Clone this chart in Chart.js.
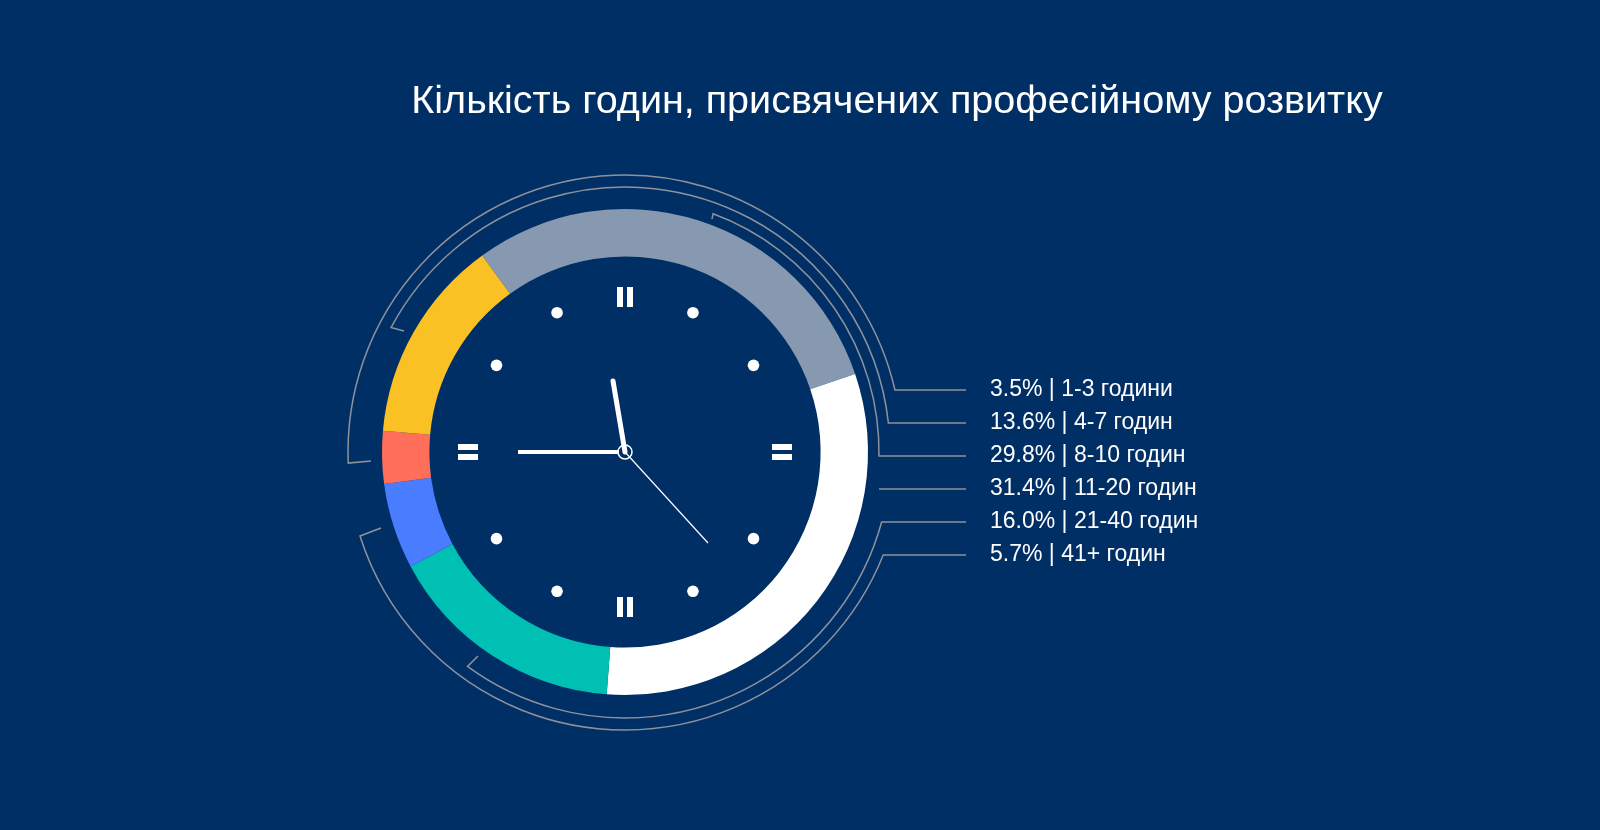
<!DOCTYPE html>
<html>
<head>
<meta charset="utf-8">
<script src="https://cdn.jsdelivr.net/npm/chart.js@4"></script>
<style>
  html, body { margin: 0; padding: 0; background: #002F65; }
  #wrap { width: 1600px; height: 830px; position: relative; }
</style>
</head>
<body>
<div id="wrap"><canvas id="grafico" width="1600" height="830"></canvas></div>
<script>
const titulo = 'Кількість годин, присвячених професійному розвитку';
// legend order
const categorias = ['1-3 години', '4-7 годин', '8-10 годин', '11-20 годин', '21-40 годин', '41+ годин'];
const valores = [3.5, 13.6, 29.8, 31.4, 16.0, 5.7];
const cores = ['#FF6F59', '#FAC124', '#8799B0', '#FFFFFF', '#00BFB3', '#4A7CFF'];
// order of the slices around the ring, clockwise
const ordemAnel = [2, 3, 4, 5, 0, 1];

const cx = 625, cy = 452;
const linhaX = 966;
const linhasY = [390, 423, 456, 489, 522, 555];
const deg = Math.PI / 180;

const decoracao = {
    id: 'decoracao',
    afterDraw(chart) {
        const ctx = chart.ctx;
        ctx.save();

        // title
        ctx.fillStyle = '#fff';
        ctx.font = '39.5px "Liberation Sans", Arial, sans-serif';
        ctx.textAlign = 'center';
        ctx.textBaseline = 'middle';
        ctx.fillText(titulo, 897, 102);

        // legend text
        ctx.font = '23px "Liberation Sans", Arial, sans-serif';
        ctx.textAlign = 'left';
        categorias.forEach((c, i) => {
            ctx.fillText(valores[i].toFixed(1) + '% | ' + c, 990, linhasY[i]);
        });

        // thin arcs + connector lines
        ctx.strokeStyle = '#8E929C';
        ctx.lineWidth = 1.5;
        function arcoTopo(r, a0, rowY, tick) {
            const a1 = 2 * Math.PI + Math.asin((rowY - cy) / r);
            ctx.beginPath();
            ctx.moveTo(tick[0], tick[1]);
            ctx.lineTo(cx + r * Math.cos(a0), cy + r * Math.sin(a0));
            ctx.arc(cx, cy, r, a0, a1, false);
            ctx.lineTo(linhaX, rowY);
            ctx.stroke();
        }
        arcoTopo(277, 177.7 * deg, linhasY[0], [371, 461]);
        arcoTopo(265, 208 * deg, linhasY[1], [404, 331]);
        arcoTopo(254, 290.3 * deg, linhasY[2], [712, 219]);

        ctx.beginPath();
        ctx.moveTo(879, linhasY[3]);
        ctx.lineTo(linhaX, linhasY[3]);
        ctx.stroke();

        function arcoBaixo(r, rowY, a1, tick) {
            const a0 = Math.asin((rowY - cy) / r);
            ctx.beginPath();
            ctx.moveTo(linhaX, rowY);
            ctx.lineTo(cx + r * Math.cos(a0), cy + r * Math.sin(a0));
            ctx.arc(cx, cy, r, a0, a1, false);
            ctx.lineTo(tick[0], tick[1]);
            ctx.stroke();
        }
        arcoBaixo(266, linhasY[4], 126.3 * deg, [478, 656]);
        arcoBaixo(278, linhasY[5], 162.4 * deg, [381, 528]);

        // clock face: dots
        ctx.fillStyle = '#fff';
        [26, 56, 124, 154, 206, 236, 304, 334].forEach(d => {
            const a = (d - 90) * deg;
            ctx.beginPath();
            ctx.arc(cx + 155 * Math.cos(a), cy + 155 * Math.sin(a), 5.8, 0, 2 * Math.PI);
            ctx.fill();
        });
        // II top / bottom
        [cy - 155, cy + 155].forEach(y => {
            ctx.fillRect(cx - 8, y - 10, 6, 20);
            ctx.fillRect(cx + 2, y - 10, 6, 20);
        });
        // = left / right
        [cx - 157, cx + 157].forEach(x => {
            ctx.fillRect(x - 10, cy - 8, 20, 6);
            ctx.fillRect(x - 10, cy + 2, 20, 6);
        });

        // hands
        ctx.strokeStyle = '#fff';
        ctx.lineCap = 'round';
        ctx.lineWidth = 5;
        ctx.beginPath();
        ctx.moveTo(cx, cy);
        ctx.lineTo(613, 381);
        ctx.stroke();
        ctx.lineCap = 'butt';
        ctx.lineWidth = 4;
        ctx.beginPath();
        ctx.moveTo(cx - 6, cy);
        ctx.lineTo(518, cy);
        ctx.stroke();
        ctx.lineWidth = 1.2;
        ctx.beginPath();
        ctx.moveTo(cx, cy);
        ctx.lineTo(708, 543);
        ctx.stroke();
        ctx.lineWidth = 1.5;
        ctx.beginPath();
        ctx.arc(cx, cy, 7, 0, 2 * Math.PI);
        ctx.stroke();

        ctx.restore();
    }
};

new Chart(document.getElementById('grafico'), {
    type: 'doughnut',
    data: {
        labels: ordemAnel.map(i => categorias[i]),
        datasets: [{
            data: ordemAnel.map(i => valores[i]),
            backgroundColor: ordemAnel.map(i => cores[i]),
            borderWidth: 0
        }]
    },
    options: {
        responsive: false,
        animation: false,
        rotation: -36,
        cutout: '80.5%',
        layout: { padding: { left: 382, right: 732, top: 209, bottom: 135 } },
        plugins: {
            legend: { display: false },
            tooltip: { enabled: false }
        }
    },
    plugins: [decoracao]
});
</script>
</body>
</html>
